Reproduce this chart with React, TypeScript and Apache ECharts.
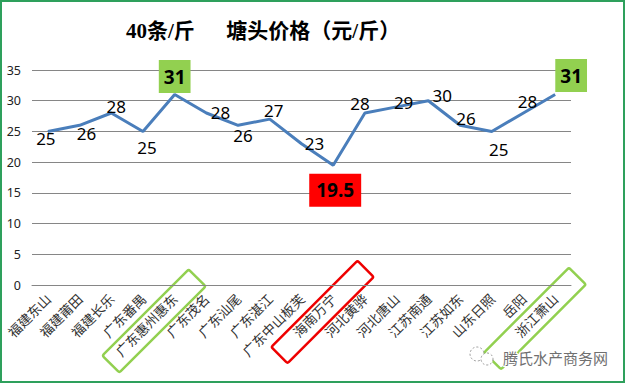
import React, { useEffect, useRef } from "react";
import * as echarts from "echarts";

const titleText = "40条/斤      塘头价格（元/斤）";
const categories = [
  "福建东山", "福建莆田", "福建长乐", "广东番禺", "广东惠州惠东", "广东茂名",
  "广东汕尾", "广东湛江", "广东中山板芙", "海南万宁", "河北黄骅", "河北唐山",
  "江苏南通", "江苏如东", "山东日照", "岳阳", "浙江萧山",
];
const prices = [25, 26, 28, 25, 31, 28, 26, 27, 23, 19.5, 28, 29, 30, 26, 25, 28, 31];
const yTicks = { min: 0, max: 35, interval: 5 };
const watermark = "腾氏水产商务网";

// label offsets (dx, dy) relative to the point, in px
const labelOffsets: [number, number][] = [
  [-2, 7], [7, 8], [5, -7], [4, 16], [0, -18], [14, -1], [5, 10], [4, -9],
  [13, 0], [2, 25], [-5, -10], [7, -4], [14, -5], [6, -7], [7, 18], [4, -12], [16, -19],
];
const highIdx = [4, 16];
const lowIdx = [9];

export default function App() {
  const ref = useRef<HTMLDivElement>(null);
  useEffect(() => {
    if (!ref.current) return;
    const chart = echarts.init(ref.current, undefined, { renderer: "svg" });
    const data = prices.map((v, i) => {
      const off = labelOffsets[i];
      const hi = highIdx.includes(i);
      const lo = lowIdx.includes(i);
      const label: any = {
        show: true,
        position: "inside",
        offset: off,
        color: "#000",
        fontFamily: "'Noto Sans', sans-serif",
        fontSize: 17,
      };
      if (hi || lo) {
        label.fontWeight = "bold";
        label.fontSize = 19;
        label.backgroundColor = hi ? "#92d050" : "#ff0000";
        label.padding = hi ? [6, 5, 5, 5] : [6, 7, 5, 7];
        label.lineHeight = 22;
      }
      return { value: v, label };
    });
    chart.setOption({
      animation: false,
      title: {
        text: titleText,
        left: 121,
        top: 15,
        textStyle: {
          fontFamily: "'Liberation Serif', 'Noto Sans CJK SC', serif",
          fontSize: 21,
          fontWeight: "bold",
          color: "#000",
        },
      },
      grid: { left: 32, right: 55, top: 70, bottom: 99 },
      xAxis: {
        type: "category",
        data: categories,
        boundaryGap: true,
        axisLine: { show: true, lineStyle: { color: "#868686", width: 1 } },
        axisTick: { show: false },
        axisLabel: {
          interval: 0,
          rotate: 45,
          margin: 11,
          fontSize: 13.5,
          color: "#333",
          fontFamily: "'Noto Sans CJK SC', serif",
        },
      },
      yAxis: {
        type: "value",
        min: yTicks.min,
        max: yTicks.max,
        interval: yTicks.interval,
        axisLine: { show: false },
        axisTick: { show: false },
        splitLine: { lineStyle: { color: "#868686", width: 1 } },
        axisLabel: {
          margin: 11,
          fontSize: 12.5,
          color: "#222",
          fontFamily: "'Noto Sans', sans-serif",
        },
      },
      series: [
        {
          type: "line",
          data,
          symbol: "circle",
          symbolSize: 0.1,
          itemStyle: { color: "#4a7ebb" },
          lineStyle: { color: "#4a7ebb", width: 3 },
        },
      ],
      graphic: [
        {
          type: "rect",
          shape: { x: 1, y: 1, width: 623, height: 381 },
          style: { fill: "none", stroke: "#2ea05c", lineWidth: 2 },
          silent: true,
        },
        {
          type: "rect",
          x: 154,
          y: 321,
          rotation: Math.PI / 4,
          shape: { x: -61, y: -12, width: 122, height: 24, r: 2 },
          style: { fill: "none", stroke: "#92d050", lineWidth: 2.5 },
        },
        {
          type: "rect",
          x: 322.5,
          y: 312,
          rotation: Math.PI / 4,
          shape: { x: -61, y: -11.5, width: 122, height: 23, r: 2 },
          style: { fill: "none", stroke: "#ee0000", lineWidth: 2.5 },
        },
        {
          type: "rect",
          x: 535,
          y: 318.5,
          rotation: Math.PI / 4,
          shape: { x: -60, y: -12, width: 120, height: 24, r: 2 },
          style: { fill: "none", stroke: "#92d050", lineWidth: 2.5 },
        },
        {
          type: "circle",
          shape: { cx: 477, cy: 354, r: 7 },
          style: { fill: "none", stroke: "#999", lineWidth: 1, lineDash: [2, 2] },
        },
        {
          type: "circle",
          shape: { cx: 487, cy: 359, r: 6 },
          style: { fill: "#fff", stroke: "#999", lineWidth: 1, lineDash: [2, 2] },
        },
        {
          type: "text",
          x: 503,
          y: 357,
          style: {
            text: watermark,
            fontSize: 15,
            fontFamily: "'Noto Sans CJK SC', sans-serif",
            fill: "#707070",
            stroke: "#fff",
            lineWidth: 2,
            verticalAlign: "middle",
            textAlign: "left",
          },
        },
      ],
    });
    return () => chart.dispose();
  }, []);
  return (
    <div
      ref={ref}
      style={{ position: "fixed", left: 0, top: 0, width: 626, height: 384, background: "#fff" }}
    />
  );
}
